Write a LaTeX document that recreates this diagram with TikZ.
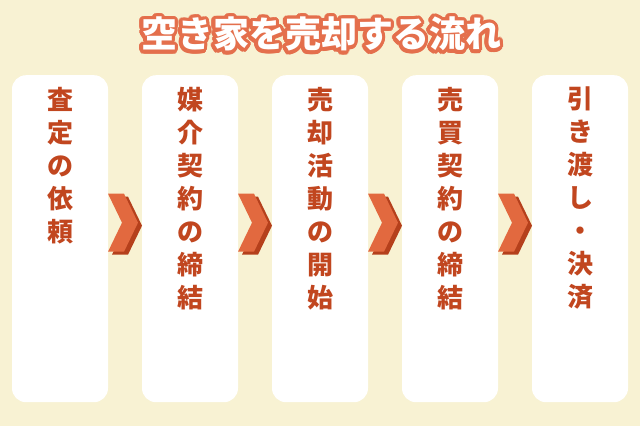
\documentclass[tikz,border=0pt]{standalone}
\usepackage{fontspec}
\newfontfamily\jp{Noto Sans CJK JP}
\usepackage{contour}
\usetikzlibrary{calc}
\definecolor{cream}{HTML}{F8F2D3}
\definecolor{textred}{HTML}{C1461F}
\definecolor{arrorange}{HTML}{E2693F}
\definecolor{arrshadow}{HTML}{B5401C}
\definecolor{titleorange}{HTML}{E46F4C}
\contourlength{3.5pt}
\contournumber{20}

\tikzset{
  stepbox/.style={fill=white, rounded corners=14pt, minimum width=96pt, minimum height=327pt, inner sep=0pt, anchor=north},
  steptext/.style={font=\jp\bfseries\fontsize{26}{33}\selectfont, text=textred, align=center, anchor=north, inner sep=0pt},
  chevron/.pic={
    \fill[arrshadow] (-13,-26) -- (3,-26) -- (17,3) -- (3,32) -- (-13,32) -- (1,3) -- cycle;
    \fill[arrorange] (-17,-29) -- (-1,-29) -- (13,0) -- (-1,29) -- (-17,29) -- (-3,0) -- cycle;
  }
}

\begin{document}
\begin{tikzpicture}[x=1pt,y=-1pt]
    \fill[cream] (0,0) rectangle (640,426);
    \useasboundingbox (0,0) rectangle (640,426);

    \node[font=\jp\bfseries\fontsize{36}{36}\selectfont, text=white] (title) at (321,36) {\contour{titleorange}{空き家を売却する流れ}};

    \node[stepbox] (box1) at (60,75) {};
    \node[stepbox] (box2) at (190,75) {};
    \node[stepbox] (box3) at (320,75) {};
    \node[stepbox] (box4) at (450,75) {};
    \node[stepbox] (box5) at (580,75) {};

    \node[steptext] (step1) at (60,87) {査\\定\\の\\依\\頼};
    \node[steptext] (step2) at (190,87) {媒\\介\\契\\約\\の\\締\\結};
    \node[steptext] (step3) at (320,87) {売\\却\\活\\動\\の\\開\\始};
    \node[steptext] (step4) at (450,87) {売\\買\\契\\約\\の\\締\\結};
    \node[steptext] (step5) at (580,87) {引\\き\\渡\\し\\・\\決\\済};

    \foreach \a/\b in {box1/box2,box2/box3,box3/box4,box4/box5}
      \pic at ($(\a.east)!0.5!(\b.west)+(0,-16)$) {chevron};
\end{tikzpicture}
\end{document}
